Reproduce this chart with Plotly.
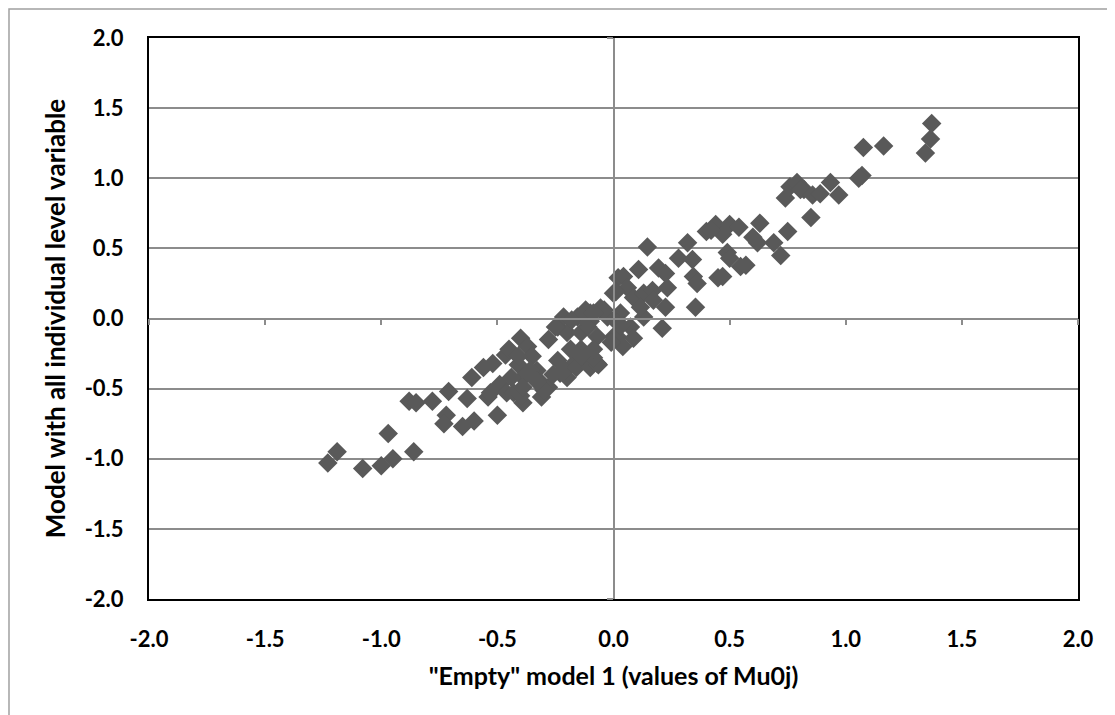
import plotly.graph_objects as go

# Values
x_empty = [
    -1.23, -1.19, -1.08, -1.00, -0.95, -0.97, -0.86, -0.88, -0.85, -0.78,
    -0.71, -0.63, -0.72, -0.73, -0.65, -0.60, -0.50, -0.61, -0.56, -0.52,
    -0.49, -0.54, -0.46, -0.465, -0.45, -0.40, -0.37, -0.35, -0.41, -0.39,
    -0.43, -0.39, -0.33, -0.31, -0.28, -0.31, -0.28, -0.24, -0.215, -0.20,
    -0.155, -0.12, -0.10, -0.056, -0.026, -0.14, -0.11, -0.07, -0.17, -0.23,
    -0.20, -0.24, -0.40, -0.36, -0.26, -0.21, -0.16, -0.10, -0.065, -0.086,
    -0.14, -0.185, -0.14, -0.11, -0.10, -0.14, -0.18, -0.25, -0.39, -0.30,
    -0.53, -0.44, -0.33, -0.41,
    -0.04, -0.086, 0.03, 0.017, 0.073, 0.13, 0.21, 0.017, 0.04, 0.086,
    -0.07, -0.086, 0.0, 0.02, 0.043, 0.06, 0.086, 0.13, 0.168, 0.116,
    0.224, 0.172, 0.146, 0.108, 0.194, 0.224, 0.232, 0.01, 0.0, 0.033,
    -0.01,
    0.319, 0.28, 0.34, 0.344, 0.36, 0.353, 0.40, 0.44, 0.47, 0.49,
    0.50, 0.45, 0.47, 0.547, 0.57, 0.50, 0.54, 0.60, 0.63, 0.62,
    0.69, 0.72, 0.75, 0.74, 0.76, 0.82, 0.85, 0.79, 0.805, 0.857,
    0.89, 0.934, 0.97, 1.076, 1.163, 1.07, 1.056, 1.343, 1.365, 1.37,
    0.42,
]
y_full = [
    -1.03, -0.95, -1.07, -1.05, -1.00, -0.82, -0.95, -0.59, -0.60, -0.59,
    -0.52, -0.57, -0.69, -0.75, -0.77, -0.73, -0.69, -0.42, -0.35, -0.32,
    -0.47, -0.56, -0.53, -0.26, -0.22, -0.14, -0.20, -0.27, -0.33, -0.42,
    -0.53, -0.60, -0.37, -0.46, -0.49, -0.56, -0.15, -0.06, 0.01, -0.10,
    0.01, 0.06, -0.02, 0.075, 0.01, -0.22, -0.30, -0.32, -0.32, -0.39,
    -0.42, -0.30, -0.55, -0.37, -0.40, -0.37, -0.35, -0.35, -0.33, -0.28,
    -0.27, -0.22, -0.10, -0.06, 0.04, 0.02, -0.01, -0.06, -0.49, -0.51,
    -0.53, -0.42, -0.45, -0.27,
    0.06, 0.04, 0.04, -0.03, -0.06, 0.01, -0.07, -0.13, -0.20, -0.14,
    -0.13, -0.22, 0.18, 0.29, 0.30, 0.22, 0.15, 0.18, 0.20, 0.08,
    0.08, 0.13, 0.51, 0.35, 0.36, 0.32, 0.22, 0.19, -0.13, -0.05,
    -0.17,
    0.54, 0.43, 0.42, 0.30, 0.25, 0.08, 0.62, 0.67, 0.60, 0.47,
    0.43, 0.29, 0.30, 0.37, 0.38, 0.67, 0.65, 0.58, 0.68, 0.54,
    0.54, 0.45, 0.62, 0.86, 0.94, 0.92, 0.72, 0.97, 0.92, 0.88,
    0.89, 0.97, 0.88, 1.22, 1.23, 1.02, 1.00, 1.18, 1.28, 1.39,
    0.63,
]

tick_vals = [-2.0, -1.5, -1.0, -0.5, 0.0, 0.5, 1.0, 1.5, 2.0]
tick_text = [f"{v:.1f}" for v in tick_vals]

x_title = '"Empty" model 1 (values of Mu0j)'
y_title = "Model with all individual level variable"

FONT = "Lato"
GRID = "#8c8c8c"

fig = go.Figure()
fig.add_trace(go.Scatter(
    x=x_empty, y=y_full, mode="markers",
    marker=dict(symbol="diamond", size=15, color="#595959", line=dict(width=0)),
    showlegend=False, hoverinfo="x+y",
))
# empty trace to activate the crossing axes (at zero)
fig.add_trace(go.Scatter(x=[None], y=[None], xaxis="x2", yaxis="y2",
                         showlegend=False, hoverinfo="skip"))

fig.update_layout(
    width=1107, height=707,
    margin=dict(l=141, r=37, t=30, b=116),
    paper_bgcolor="white", plot_bgcolor="white",
    font=dict(family=FONT, color="black"),
    xaxis=dict(
        range=[-2, 2], tickvals=tick_vals, ticktext=tick_text,
        showgrid=False, zeroline=False, ticks="",
        showline=True, mirror=True, linecolor="black", linewidth=2,
        tickfont=dict(family=FONT, size=22, color="black", weight="bold"),
        ticklabelstandoff=20,
        title=dict(text=x_title, font=dict(family=FONT, size=25, weight="bold"), standoff=16),
    ),
    yaxis=dict(
        range=[-2, 2], tickvals=tick_vals, ticktext=tick_text,
        showgrid=True, gridcolor=GRID, gridwidth=1.5, zeroline=False, ticks="",
        showline=True, mirror=True, linecolor="black", linewidth=2,
        tickfont=dict(family=FONT, size=22, color="black", weight="bold"),
        ticklabelstandoff=19,
        title=dict(text=y_title, font=dict(family=FONT, size=26, weight="bold"), standoff=12),
    ),
    xaxis2=dict(
        range=[-2, 2], overlaying="x", anchor="free", position=0.5,
        tickvals=tick_vals, showticklabels=False, showgrid=False, zeroline=False,
        ticks="outside", ticklen=6, tickwidth=1.5, tickcolor=GRID,
        showline=True, linecolor=GRID, linewidth=1.5,
    ),
    yaxis2=dict(
        range=[-2, 2], overlaying="y", anchor="free", position=0.5,
        tickvals=tick_vals, showticklabels=False, showgrid=False, zeroline=False,
        ticks="outside", ticklen=6, tickwidth=1.5, tickcolor=GRID,
        showline=True, linecolor=GRID, linewidth=1.5,
    ),
    shapes=[dict(type="rect", xref="paper", yref="paper",
                 x0=-0.1507, x1=1.0452, y0=-0.2157, y1=1.0517,
                 line=dict(color="#a0a0a0", width=1.5), layer="below")],
)

fig.write_html("out.html")
